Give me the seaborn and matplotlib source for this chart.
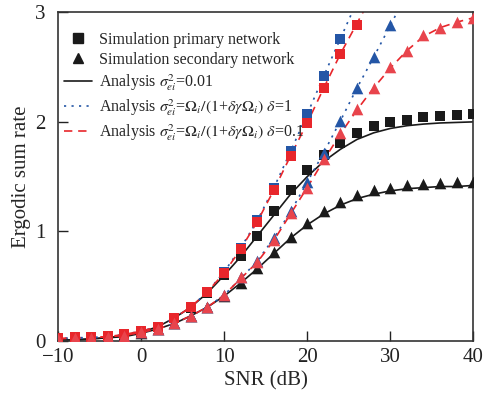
import matplotlib
matplotlib.use("Agg")
import matplotlib.pyplot as plt
import seaborn as sns
import numpy as np
import pandas as pd
from matplotlib.lines import Line2D

sns.set_theme(style="white")
plt.rcParams['font.family'] = ['Liberation Serif', 'DejaVu Serif']
plt.rcParams['mathtext.fontset'] = 'stix'

snr = [-10, -8, -6, -4, -2, 0, 2, 4, 6, 8, 10, 12, 14, 16, 18, 20, 22, 24, 26, 28, 30, 32, 34, 36, 38, 40]

# Simulation markers
sim_p_001 = [0.01, 0.01, 0.02, 0.03, 0.05, 0.08, 0.13, 0.21, 0.30, 0.44, 0.60, 0.78, 0.96, 1.19, 1.38, 1.56, 1.70, 1.81, 1.90, 1.96, 2.00, 2.02, 2.04, 2.05, 2.06, 2.07]
sim_s_001 = [0.01, 0.01, 0.02, 0.03, 0.04, 0.07, 0.11, 0.16, 0.23, 0.31, 0.41, 0.53, 0.67, 0.81, 0.95, 1.08, 1.19, 1.27, 1.33, 1.38, 1.40, 1.42, 1.43, 1.44, 1.45, 1.45]
sim_p_d1 = [0.03, 0.04, 0.04, 0.05, 0.06, 0.09, 0.13, 0.21, 0.31, 0.45, 0.63, 0.85, 1.10, 1.40, 1.73, 2.07, 2.42, 2.76, None, None, None, None, None, None, None, None]
sim_p_d01 = [0.03, 0.04, 0.04, 0.05, 0.06, 0.09, 0.13, 0.21, 0.31, 0.45, 0.62, 0.84, 1.09, 1.38, 1.69, 1.99, 2.31, 2.62, 2.88, None, None, None, None, None, None, None]
sim_s_d1 = [0.02, 0.03, 0.03, 0.04, 0.05, 0.08, 0.11, 0.16, 0.23, 0.31, 0.42, 0.58, 0.73, 0.94, 1.19, 1.45, 1.72, 2.01, 2.31, 2.59, 2.88, None, None, None, None, None]
sim_s_d01 = [0.02, 0.03, 0.03, 0.04, 0.05, 0.08, 0.11, 0.16, 0.23, 0.31, 0.42, 0.58, 0.72, 0.92, 1.17, 1.40, 1.66, 1.90, 2.12, 2.31, 2.50, 2.65, 2.79, 2.86, 2.91, 2.95]

# Analysis curves
ana_p_001 = [0.01, 0.01, 0.02, 0.03, 0.05, 0.08, 0.13, 0.21, 0.31, 0.44, 0.60, 0.77, 0.96, 1.15, 1.34, 1.50, 1.64, 1.75, 1.84, 1.90, 1.94, 1.965, 1.98, 1.99, 1.995, 2.00]
ana_s_001 = [0.01, 0.01, 0.02, 0.03, 0.04, 0.07, 0.11, 0.16, 0.23, 0.31, 0.41, 0.53, 0.66, 0.80, 0.94, 1.06, 1.16, 1.24, 1.30, 1.34, 1.37, 1.39, 1.40, 1.41, 1.41, 1.42]
ana_p_d1 = [0.02, 0.03, 0.03, 0.04, 0.06, 0.09, 0.13, 0.21, 0.31, 0.45, 0.63, 0.85, 1.10, 1.40, 1.73, 2.07, 2.42, 2.76, 3.10, None, None, None, None, None, None, None]
ana_p_d01 = [0.02, 0.03, 0.03, 0.04, 0.06, 0.09, 0.13, 0.21, 0.31, 0.45, 0.62, 0.84, 1.09, 1.38, 1.69, 1.99, 2.31, 2.62, 2.90, 3.18, None, None, None, None, None, None]
ana_s_d1 = [0.02, 0.03, 0.03, 0.04, 0.05, 0.08, 0.11, 0.16, 0.23, 0.31, 0.42, 0.57, 0.73, 0.94, 1.18, 1.45, 1.72, 2.01, 2.31, 2.59, 2.88, 3.17, None, None, None, None]
ana_s_d01 = [0.02, 0.03, 0.03, 0.04, 0.05, 0.08, 0.11, 0.16, 0.23, 0.31, 0.42, 0.57, 0.72, 0.92, 1.16, 1.40, 1.65, 1.89, 2.11, 2.31, 2.49, 2.65, 2.78, 2.86, 2.91, 2.95]

BLACK = "#1a1a1a"
BLUE = "#2456a6"
RED = "#e8262b"
RED_T = "#e8444c"
DOT = (0, (1.3, 3.2))
DASH = (0, (5, 3.5))

fig = plt.figure(figsize=(4.83, 3.97), dpi=100)
ax = fig.add_axes([0.120, 0.141, 0.860, 0.828])

def series(y):
    return pd.DataFrame({"x": snr, "y": y}).dropna()

line_specs = [
    (ana_p_001, BLACK, "-"), (ana_s_001, BLACK, "-"),
    (ana_p_d1, BLUE, DOT), (ana_s_d1, BLUE, DOT),
    (ana_p_d01, RED, DASH), (ana_s_d01, RED, DASH),
]
marker_specs = [
    (sim_p_001, BLACK, "s", 50), (sim_s_001, BLACK, "^", 70),
    (sim_p_d1, BLUE, "s", 50), (sim_s_d1, BLUE, "^", 70),
    (sim_p_d01, RED, "s", 50), (sim_s_d01, RED_T, "^", 70),
]

for (ly, lc, ls), (my, mc, mk, ms) in zip(line_specs, marker_specs):
    sns.lineplot(data=series(ly), x="x", y="y", ax=ax, color=lc, linestyle=ls, linewidth=1.2,
                 sort=False, estimator=None, legend=False)
    sns.scatterplot(data=series(my), x="x", y="y", ax=ax, color=mc, marker=mk, s=ms,
                    linewidth=0, legend=False, zorder=3)

ax.set_xlim(-10, 40)
ax.set_ylim(0, 3)
ax.set_xticks([-10, 0, 10, 20, 30, 40])
ax.set_xticklabels(["\u221210", "0", "10", "20", "30", "40"])
ax.set_yticks([0, 1, 2, 3])
ax.tick_params(direction="in", length=7, width=1, labelsize=15, colors="#222222",
               bottom=True, left=True, top=False, right=False)
ax.tick_params(axis="y", pad=9)
ax.tick_params(axis="x", pad=5)
for sp in ax.spines.values():
    sp.set_color("#333333")
    sp.set_linewidth(1.2)
ax.set_xlabel("SNR (dB)", fontsize=15, labelpad=3)
ax.set_ylabel("Ergodic sum rate", fontsize=15, labelpad=3)

handles = [
    Line2D([], [], color=BLACK, marker="s", linestyle="none", markersize=6.5),
    Line2D([], [], color=BLACK, marker="^", linestyle="none", markersize=7.5),
    Line2D([], [], color=BLACK, linestyle="-", linewidth=1.2),
    Line2D([], [], color=BLUE, linestyle=DOT, linewidth=1.2),
    Line2D([], [], color=RED, linestyle=DASH, linewidth=1.2),
]
labels = [
    "Simulation primary network",
    "Simulation secondary network",
    r"Analysis $\sigma^2_{ei}$=0.01",
    r"Analysis $\sigma^2_{ei}$=$\mathit{\Omega}_i/(1$+$\delta\gamma\mathit{\Omega}_i)$ $\delta$=1",
    r"Analysis $\sigma^2_{ei}$=$\mathit{\Omega}_i/(1$+$\delta\gamma\mathit{\Omega}_i)$ $\delta$=0.1",
]
ax.legend(handles, labels, loc="upper left", frameon=False, fontsize=11.5,
          handlelength=1.75, handletextpad=0.45, labelspacing=0.26,
          borderaxespad=0.0, bbox_to_anchor=(0.0, 0.96))

fig.savefig("out.png", dpi=100)
